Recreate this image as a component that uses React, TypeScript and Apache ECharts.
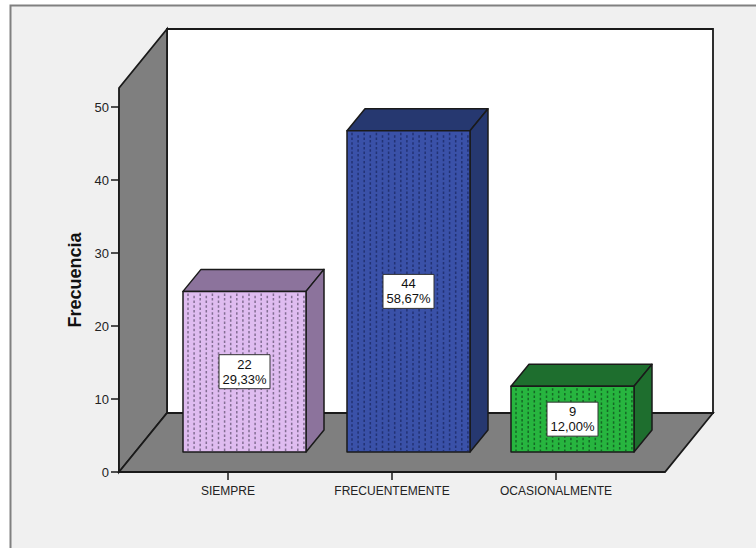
import React, { useEffect, useRef } from "react";
import * as echarts from "echarts";

const categories = ["SIEMPRE", "FRECUENTEMENTE", "OCASIONALMENTE"];
const frequencies = [22, 44, 9];
const percentLabels = ["29,33%", "58,67%", "12,00%"];
const yTicks = { min: 0, max: 50, interval: 10 };

const frontColors = ["#dfbcf0", "#3a51a8", "#27b53f"];
const sideColors = ["#8c739c", "#263870", "#1e6e2e"];
const dotColors = ["#6b5a7c", "#1d2b66", "#12551f"];

const INK = "#1a1a1a";
const FONT = "'Liberation Sans', Arial, sans-serif";
const WALL = "#7f7f7f";

const renderWalls = (params: any, api: any) => {
  const cs = params.coordSys;
  const left = cs.x - 27;
  const right = cs.x + cs.width + 27;
  const bottom = api.coord([0, 0])[1];
  const leftTop = api.coord([0, 50])[1] - 19;
  const dx = 48;
  const dy = -59;
  const style = (fill: string) => ({ fill, stroke: INK, lineWidth: 1.8 });
  return {
    type: "group",
    children: [
      {
        type: "rect",
        shape: { x: left + dx, y: leftTop + dy, width: right - left, height: bottom - leftTop },
        style: style("#ffffff"),
      },
      {
        type: "polygon",
        shape: {
          points: [[left, bottom], [left + dx, bottom + dy], [left + dx, leftTop + dy], [left, leftTop]],
        },
        style: style(WALL),
      },
      {
        type: "polygon",
        shape: {
          points: [[left, bottom], [left + dx, bottom + dy], [right + dx, bottom + dy], [right, bottom]],
        },
        style: style(WALL),
      },
    ],
  };
};

const renderBar = (params: any, api: any) => {
  const i = api.value(0);
  const v = api.value(1);
  const base = api.coord([i, 0]);
  const top = api.coord([i, v]);
  const shiftX = 16.5;
  const shiftY = -20;
  const w = 123;
  const dx = 18;
  const dy = -22;
  const xl = base[0] + shiftX - w / 2;
  const xr = xl + w;
  const yb = base[1] + shiftY;
  const yt = top[1] + shiftY;
  const stroke = { stroke: INK, lineWidth: 1.5, lineJoin: "round" };
  const children: any[] = [
    {
      type: "polygon",
      shape: { points: [[xl, yt], [xl + dx, yt + dy], [xr + dx, yt + dy], [xr, yt]] },
      style: { fill: sideColors[i], ...stroke },
    },
    {
      type: "polygon",
      shape: { points: [[xr, yt], [xr + dx, yt + dy], [xr + dx, yb + dy], [xr, yb]] },
      style: { fill: sideColors[i], ...stroke },
    },
    {
      type: "rect",
      shape: { x: xl, y: yt, width: w, height: yb - yt },
      style: { fill: frontColors[i], ...stroke },
    },
  ];
  for (let k = 0; k < 20; k++) {
    const x = xl + 5 + k * 6.1;
    children.push({
      type: "line",
      shape: { x1: x, y1: yt + 2 + (k % 2 ? 2.4 : 0), x2: x, y2: yb - 1 },
      style: { stroke: dotColors[i], lineWidth: 1.5, lineDash: [2.5, 2.2], opacity: 0.8 },
    });
  }
  const cx = (xl + xr) / 2;
  const cy = (yt + yb) / 2;
  children.push(
    {
      type: "rect",
      shape: { x: cx - 25.5, y: cy - 17, width: 51, height: 34 },
      style: { fill: "#ffffff", stroke: "#333333", lineWidth: 1 },
    },
    {
      type: "text",
      style: {
        text: `${frequencies[i]}\n${percentLabels[i]}`,
        x: cx,
        y: cy,
        align: "center",
        verticalAlign: "middle",
        fontSize: 13,
        lineHeight: 15,
        fontFamily: FONT,
        fill: "#111111",
      },
    }
  );
  return { type: "group", children };
};

export default function App() {
  const ref = useRef<HTMLDivElement>(null);
  useEffect(() => {
    const chart = echarts.init(ref.current!, null, { renderer: "svg" });
    chart.setOption({
      animation: false,
      grid: { left: 146, right: 118, top: 107, bottom: 76 },
      graphic: [
        {
          type: "rect",
          z: -10,
          shape: { x: 10.5, y: 5.5, width: 800, height: 600 },
          style: { fill: "#f0f0f0", stroke: "#808080", lineWidth: 2 },
        },
        {
          type: "text",
          x: 74.5,
          y: 280,
          rotation: Math.PI / 2,
          style: {
            text: "Frecuencia",
            align: "center",
            verticalAlign: "middle",
            fontSize: 18,
            fontWeight: "bold",
            fontFamily: FONT,
            fill: "#111111",
          },
        },
      ],
      xAxis: {
        type: "category",
        data: categories,
        axisLine: { show: true, lineStyle: { color: INK, width: 1.8 } },
        axisTick: { show: true, alignWithLabel: true, length: 8, lineStyle: { color: INK, width: 1.5 } },
        axisLabel: { color: "#222222", fontSize: 12, fontFamily: FONT, margin: 13, interval: 0 },
        splitLine: { show: false },
      },
      yAxis: {
        type: "value",
        min: yTicks.min,
        max: yTicks.max,
        interval: yTicks.interval,
        offset: 27,
        axisLine: { show: true, lineStyle: { color: INK, width: 1.8 } },
        axisTick: { show: true, length: 8, lineStyle: { color: INK, width: 1.5 } },
        axisLabel: { color: "#222222", fontSize: 13, fontFamily: FONT, margin: 10, padding: [2, 0, 0, 0] },
        splitLine: { show: false },
      },
      series: [
        {
          type: "custom",
          data: [[0, 0]],
          encode: { x: 0, y: 1 },
          renderItem: renderWalls,
          clip: false,
          silent: true,
          z: 1,
        },
        {
          type: "custom",
          data: categories.map((_, i) => [i, frequencies[i]]),
          encode: { x: 0, y: 1 },
          renderItem: renderBar,
          clip: false,
          silent: true,
          z: 3,
        },
      ],
    });
    return () => chart.dispose();
  }, []);
  return (
    <div
      ref={ref}
      style={{ position: "absolute", left: 0, top: 0, width: 756, height: 548 }}
    />
  );
}
